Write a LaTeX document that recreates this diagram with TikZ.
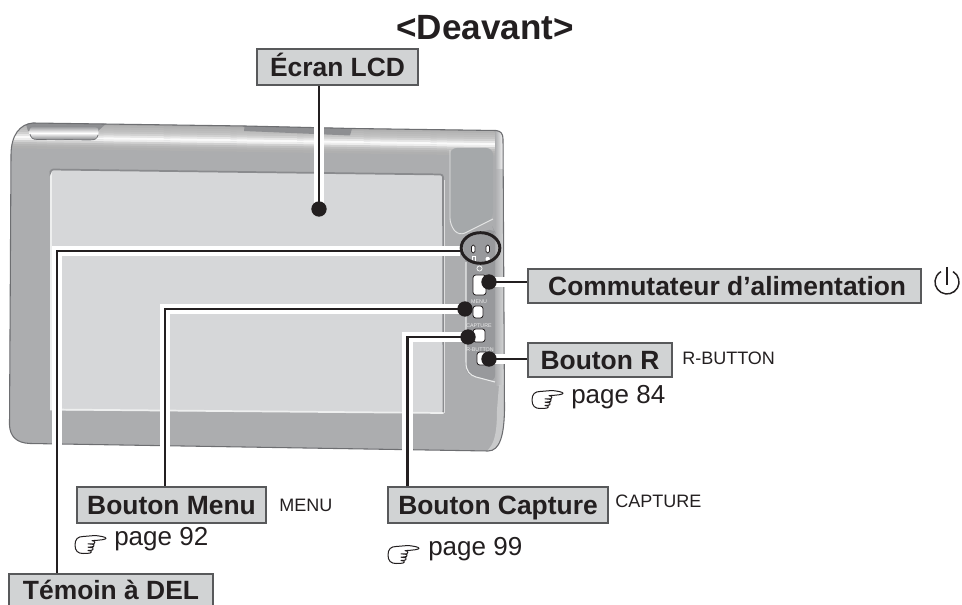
\documentclass[tikz,border=0pt]{standalone}
\usepackage{fontspec}
\setmainfont{Liberation Sans}
\usetikzlibrary{shapes.geometric,calc}
\pgfdeclarelayer{device}
\pgfdeclarelayer{leads}
\pgfsetlayers{device,leads,main}
\definecolor{ink}{HTML}{231F20}
\definecolor{boxfill}{HTML}{D1D3D4}
\definecolor{boxedge}{HTML}{58595B}
\definecolor{bodyg}{HTML}{ACADAF}
\definecolor{screeng}{HTML}{D6D7D9}
\definecolor{edgeg}{HTML}{6D6E71}
\definecolor{tabg}{HTML}{8E8F92}
\definecolor{panelg}{HTML}{A5A8AA}
\definecolor{ctrlg}{HTML}{98999C}
\def\px{0.75pt}
\tikzset{
  x=\px,y=-\px,
  labelbox/.style={draw=boxedge,fill=boxfill,line width=1.1pt,inner sep=0pt,text=ink,
    font=\fontsize{19.8pt}{22pt}\bfseries,text height=14.2pt,text depth=0pt},
  lead/.style={ink,line width=2.2pt},
  leadhalo/.style={white,line width=8.2pt},
  blackdot/.style={circle,fill=ink,inner sep=0pt,minimum size=11.5pt},
  sidelabel/.style={text=ink,inner sep=0pt,font=\fontsize{13.5pt}{15pt}\selectfont,anchor=west},
  pagelabel/.style={text=ink,inner sep=0pt,font=\fontsize{19.5pt}{22pt}\selectfont,anchor=base west},
  tiny/.style={text=white!92!black,inner sep=0pt,font=\fontsize{4pt}{5pt}\selectfont},
  keybtn/.style={draw=ink,fill=white,line width=0.6pt,rounded corners=2pt},
  pill/.style={draw=ink,fill=white,line width=0.6pt,rounded corners=1.2pt},
  hand/.pic={
    \draw[ink,line width=0.75pt,line join=round,fill=white]
      (0,10) .. controls (0,4) and (3,1.5) .. (8,1.5) -- (20,0.5)
      .. controls (25,1) and (31,2) .. (31,3.2) .. controls (31,4.6) and (25,5.2) .. (17,5.6)
      .. controls (20,6) and (21,8) .. (19,8.8) -- (13,8.8)
      -- (19,9.4) .. controls (20,11) and (19,12) .. (13,12.2)
      -- (18,12.8) .. controls (19,14.5) and (18,15.5) .. (13,15.5)
      -- (16,16) .. controls (17,18) and (15,18.5) .. (8,18.5)
      .. controls (3,18.5) and (0,16) .. (0,10) -- cycle;
  },
}
\begin{document}
\begin{tikzpicture}
\useasboundingbox (0,0) rectangle (962,605);
\begin{pgfonlayer}{device}
% --- device body
\def\bodypath{(33,123) -- (245,126) -- (353,128.5) -- (496,130.5)
  .. controls (501,131) and (503,134) .. (503,139) -- (504.5,410)
  .. controls (504,435) and (500,451) .. (488,451) -- (30,443.5)
  .. controls (16,443) and (10,436) .. (9.5,425) -- (11,155)
  .. controls (11,135) and (20,124) .. (33,123) -- cycle}
\begin{scope}
  \clip \bodypath;
  \fill[bodyg] (0,100) rectangle (520,460);
  \foreach \d/\g in {0/.66,2/.70,4/.72,6/.74,8/.77,10/.82,12/.90,14/.98,16/.93,18/.82,20/.75,22/.71,24/.69}{
    \definecolor{stripc}{gray}{\g}
    \draw[stripc,line width=1.8pt] (0,{123+\d}) -- (520,{130.8+\d});
  }
  % recesses on the upper edge
  \fill[tabg] (244,131) -- (245,122) -- (353,125) -- (350,135.5) -- cycle;
  \fill[tabg] (25,121) -- (108,122) -- (98,131) -- (28,131) -- cycle;
  % right flank
  \fill[left color=bodyg,right color=white!88!bodyg] (495,128) rectangle (503,170);
  \fill[left color=bodyg,right color=white!55!bodyg] (495,170) rectangle (505,385);
  \fill[white!35!bodyg] (499,385) -- (506,385) -- (506,455) -- (480,455) .. controls (494,450) and (497,435) .. (497,410) -- cycle;
\end{scope}
\draw[edgeg,line width=0.8pt] \bodypath;
% left recess
\shade[top color=tabg,bottom color=tabg!90!black,middle color=white]
  (35,126) -- (95,127) .. controls (99,127) and (99,132) .. (98,135)
  .. controls (97,139) and (95,140) .. (90,140) -- (37,139.5)
  .. controls (30,139.5) and (27,133) .. (30,129) .. controls (31,127) and (33,126) .. (35,126) -- cycle;
\draw[edgeg,line width=0.5pt] (30,134) .. controls (31,138) and (33,139.5) .. (37,139.5) -- (90,140) .. controls (95,140) and (97,139) .. (98,135);
% --- screen
\fill[screeng,rounded corners=2pt] (50,169) -- (443,175) -- (443,412.5) -- (50,410.5) -- cycle;
\draw[white!80!bodyg,line width=1.3pt] (51,171) -- (51,409.5) -- (443.5,413);
\draw[edgeg!80!white,line width=1.3pt,rounded corners=2pt] (50.5,171) -- (50.5,169.5) -- (443,174.5) -- (443.5,412);
\draw[white!60!bodyg,line width=0.6pt] (444.5,180) -- (444.5,413);
% --- side panels
\fill[panelg,rounded corners=5pt] (450,148) -- (493,148) -- (493,219) -- (459,236) -- (450,225) -- cycle;
\draw[white!70!panelg,line width=0.7pt,rounded corners=5pt] (450,150) -- (450,225) -- (459,236) -- (493,219);
\fill[ctrlg,rounded corners=5pt] (493,228) -- (462,240) -- (466,262) -- (466,362) .. controls (466,372) and (470,375) .. (476,377) -- (495,382) -- (495,232) -- cycle;
\draw[white!80!ctrlg,line width=0.8pt] (466,262) -- (466,362) .. controls (466,372) and (470,375) .. (476,377) -- (495,382);
% buttons
\draw[keybtn] (473,275) rectangle (486,295);
\draw[keybtn] (473,306) rectangle (483,318);
\draw[keybtn] (473,329) rectangle (485,342);
\draw[keybtn] (477,352) rectangle (488,365);
\draw[pill] (471.5,245) rectangle (475,253);
\draw[pill] (486,245) rectangle (489.5,253);
\draw[white,line width=0.5pt] (472,256) rectangle (475,262);
\fill[white] (487.7,259) circle (2.2);
\draw[white,line width=0.5pt] (479.5,268.5) circle (2.6);
\end{pgfonlayer}
% --- marked points
\node[draw=ink,line width=2.2pt,ellipse,inner sep=0pt,minimum width=29pt,minimum height=23pt] (oval) at (480.5,248) {};
\node[blackdot] (dotLCD) at (319,209) {};
\node[blackdot] (dotPower) at (489,282) {};
\node[blackdot] (dotMenu) at (465,309) {};
\node[blackdot] (dotCapture) at (468,337) {};
\node[blackdot] (dotR) at (489,359) {};
\node[tiny] (capMenu) at (479,302) {MENU};
\node[tiny] (capCapture) at (479,326) {CAPTURE};
\node[tiny] (capR) at (480,349.5) {R-BUTTON};
% --- label boxes
\node[labelbox,minimum width=120.75pt,minimum height=27pt] (boxLCD) at (337.5,67) {Écran LCD};
\node[labelbox,minimum width=294.75pt,minimum height=25.5pt] (boxPower) at (724.5,286) {\hspace*{4pt}Commutateur d’alimentation};
\node[labelbox,minimum width=108pt,minimum height=25.5pt] (boxR) at (600,360) {Bouton R};
\node[labelbox,minimum width=141.75pt,minimum height=27pt] (boxMenu) at (171.5,505) {Bouton Menu};
\node[labelbox,minimum width=165pt,minimum height=27pt] (boxCapture) at (498,505) {Bouton Capture};
\node[labelbox,minimum width=153pt,minimum height=24pt] (boxLED) at (111,590) {Témoin à DEL};
% --- connectors, under the boxes and dots
\begin{pgfonlayer}{leads}
  \foreach \sty in {leadhalo,lead}{
    \draw[\sty] (dotLCD.center) -- (dotLCD |- boxLCD.south);
    \draw[\sty] ([yshift=-2.25pt]oval.west) -| ([xshift=-40.5pt]boxLED.north);
    \draw[\sty] (dotMenu.center) -| ([xshift=-4.9pt]boxMenu.north);
    \draw[\sty] (dotCapture.center) -| ([xshift=-68.2pt]boxCapture.north);
    \draw[\sty] (dotPower.center) -- (dotPower -| boxPower.west);
    \draw[\sty] (dotR.center) -- (dotR -| boxR.west);
  }
\end{pgfonlayer}
% --- other texts
\node[text=ink,inner sep=0pt,font=\fontsize{26.3pt}{28pt}\bfseries] (title) at (485,28) {<Deavant>};
\node[sidelabel] (lblR) at (682,358) {R-BUTTON};
\node[sidelabel] (lblMenu) at (279,505) {MENU};
\node[sidelabel] (lblCapture) at (615,501) {CAPTURE};
\node[pagelabel] (page84) at (571,403) {page 84};
\node[pagelabel] (page92) at (114,545) {page 92};
\node[pagelabel] (page99) at (428,555) {page 99};
\pic at (532,390) {hand};
\pic at (75,535) {hand};
\pic at (388,545) {hand};
% --- power symbol
\draw[ink,line width=1.1pt] (953,271.6) arc[start angle=-60,end angle=240,radius=12];
\draw[ink,line width=1.1pt] (947,267) -- (947,285);
\end{tikzpicture}
\end{document}
